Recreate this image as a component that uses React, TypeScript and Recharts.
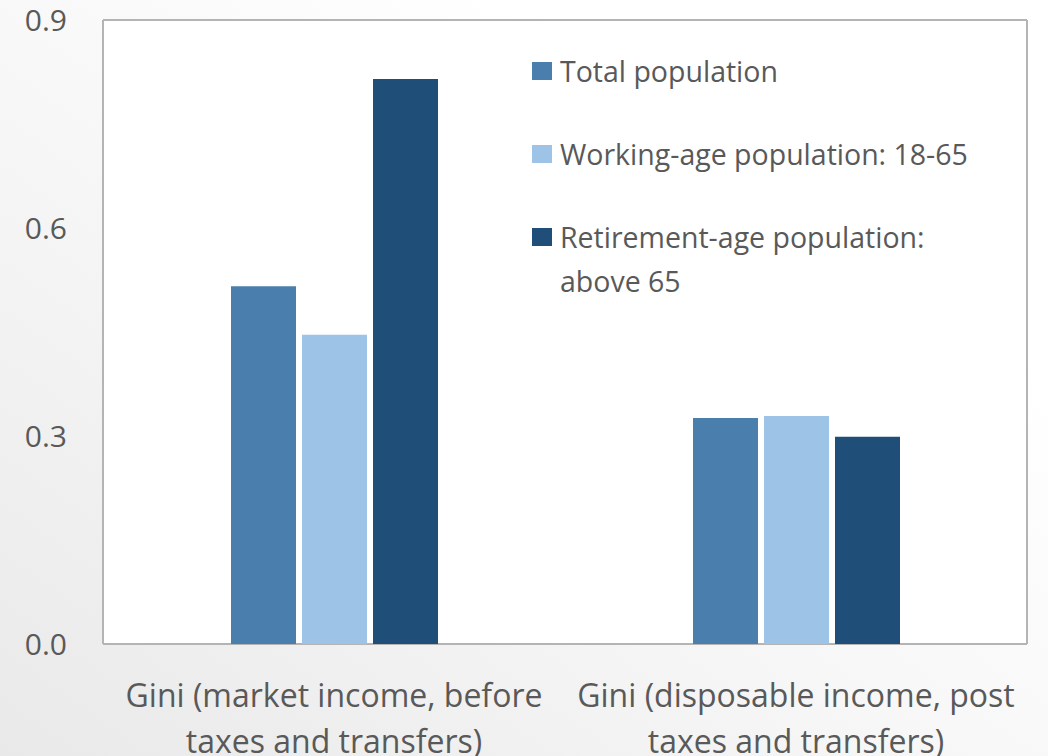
import { BarChart, Bar, XAxis, YAxis, CartesianGrid, Legend } from "recharts";

const categories = [
  "Gini (market income, before taxes and transfers)",
  "Gini (disposable income, post taxes and transfers)",
];
const totalPopulation = [0.516, 0.326];
const workingAgePopulation = [0.446, 0.329];
const retirementAgePopulation = [0.815, 0.299];
const yTicks = [0, 0.3, 0.6, 0.9];

const seriesKeys = ["total", "working", "retirement"];
const seriesNames = [
  "Total population",
  "Working-age population: 18-65",
  "Retirement-age population: above 65",
];
const seriesColors = ["#4a7fad", "#9dc3e6", "#1f4e79"];

const FONT = "'Open Sans', 'Noto Sans', sans-serif";
const TEXT = "#595959";

const data = categories.map((name, i) => ({
  name,
  total: totalPopulation[i],
  working: workingAgePopulation[i],
  retirement: retirementAgePopulation[i],
}));

// break a label into lines of at most maxChars characters
function wrap(label: string, maxChars: number) {
  const lines: string[] = [];
  let cur = "";
  for (const w of label.split(" ")) {
    const next = cur ? cur + " " + w : w;
    if (next.length > maxChars && cur) {
      lines.push(cur);
      cur = w;
    } else {
      cur = next;
    }
  }
  if (cur) lines.push(cur);
  return lines;
}

function CategoryTick(props: any) {
  const { x, y, payload } = props;
  const lines = wrap(payload.value, 29);
  return (
    <text x={x} y={y} textAnchor="middle" fill={TEXT} fontSize={32} fontFamily={FONT}>
      {lines.map((l, i) => (
        <tspan key={i} x={x} dy={i === 0 ? 61 : 46}>
          {l}
        </tspan>
      ))}
    </text>
  );
}

// legend drawn in series order (recharts sorts the payload by name)
function LegendBox() {
  return (
    <div style={{ fontFamily: FONT, fontSize: 28.5, color: TEXT }}>
      {seriesNames.map((name, i) => (
        <div
          key={i}
          style={{ display: "flex", alignItems: "flex-start", marginBottom: 39, lineHeight: "44px" }}
        >
          <span
            style={{
              display: "inline-block",
              width: 20,
              height: 18,
              background: seriesColors[i],
              marginTop: 13,
              marginRight: 8,
              flexShrink: 0,
            }}
          />
          <span style={{ width: 420 }}>{name}</span>
        </div>
      ))}
    </div>
  );
}

export default function App() {
  return (
    <div
      style={{
        position: "absolute",
        left: 0,
        top: 0,
        width: 1048,
        height: 756,
        overflow: "hidden",
        background: "linear-gradient(to top right, #e9e9e9 0%, #f7f7f7 45%, #ffffff 75%)",
      }}
    >
      <BarChart
        width={1048}
        height={756}
        data={data}
        margin={{ top: 20, right: 21, bottom: 0, left: 0 }}
        barCategoryGap={128}
        barGap={6}
      >
        <CartesianGrid
          fill="#ffffff"
          stroke="#b4b4b4"
          strokeWidth={2}
          horizontalCoordinatesGenerator={({ offset }: any) => [offset.top, offset.top + offset.height]}
          verticalCoordinatesGenerator={({ offset }: any) => [offset.left, offset.left + offset.width]}
        />
        <XAxis
          dataKey="name"
          height={112}
          tickLine={false}
          axisLine={false}
          tickSize={0}
          tick={<CategoryTick />}
          interval={0}
        />
        <YAxis
          width={103}
          domain={[0, 0.9]}
          ticks={yTicks}
          tickFormatter={(v: number) => v.toFixed(1)}
          tickLine={false}
          axisLine={false}
          tickSize={0}
          tickMargin={36}
          tick={{ fill: TEXT, fontSize: 30, fontFamily: FONT }}
        />
        <Legend
          layout="vertical"
          align="center"
          verticalAlign="middle"
          wrapperStyle={{ position: "absolute", left: 532, top: 49, width: 470 }}
          content={<LegendBox />}
        />
        {seriesKeys.map((k, i) => (
          <Bar
            key={k}
            dataKey={k}
            name={seriesNames[i]}
            fill={seriesColors[i]}
            isAnimationActive={false}
          />
        ))}
      </BarChart>
    </div>
  );
}
